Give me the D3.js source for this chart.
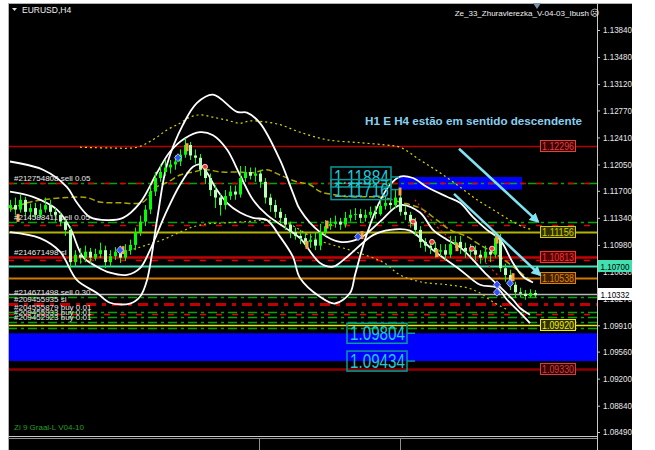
<!DOCTYPE html>
<html><head><meta charset="utf-8">
<script src="https://cdn.jsdelivr.net/npm/d3@7"></script>
<style>body{margin:0;background:#fff}svg{display:block}text{font-family:"Liberation Sans",Arial,sans-serif}</style>
</head><body><svg id="c" width="655" height="450"></svg>
<script>
// ---------- DATA ----------
const symbolTitle = "EURUSD,H4";
const expertTitle = "Ze_33_Zhuravlerezka_V-04-03_Ibush";
const commentText = "H1 E H4 estão em sentido descendente";
const footerText = "Zi 9 Graal-L V04-10";
const priceTicks = [1.13840,1.13480,1.13120,1.12770,1.12410,1.12050,1.11700,1.11340,1.10980,1.10630,1.10270,1.09910,1.09560,1.09200,1.08840,1.08490];
const firstOpen = 1.1147;
const candleClose = [
1.1151,1.1145,1.1158,1.1142,1.1147,1.1138,1.1145,1.1151,1.1142,1.1138,
1.1129,1.1118,1.1075,1.1085,1.1081,1.1089,1.1081,1.1086,1.1091,1.1075,
1.1083,1.1089,1.1081,1.1091,1.1098,1.1115,1.1129,1.1145,1.1169,1.1187,
1.1195,1.1201,1.1205,1.1209,1.1218,1.1231,1.1217,1.1214,1.1198,1.1187,
1.1171,1.1161,1.1151,1.1163,1.1169,1.1165,1.1187,1.1195,1.1190,1.1193,
1.1182,1.1161,1.1151,1.1142,1.1134,1.1125,1.1115,1.1110,1.1107,1.1102,
1.1105,1.1097,1.1115,1.1123,1.1126,1.1129,1.1125,1.1134,1.1138,1.1139,
1.1134,1.1138,1.1142,1.1139,1.1150,1.1154,1.1151,1.1161,1.1142,1.1138,
1.1129,1.1118,1.1102,1.1097,1.1094,1.1089,1.1091,1.1085,1.1099,1.1102,
1.1094,1.1089,1.1091,1.1085,1.1081,1.1089,1.1085,1.1107,1.1067,1.1058,
1.1045,1.1035,1.1033,1.1030,1.1034,1.1031];
const candleHigh = [
1.1158,1.1161,1.1165,1.1162,1.1153,1.1154,1.1153,1.1161,1.1158,1.1147,
1.1142,1.1134,1.1123,1.1091,1.1094,1.1097,1.1094,1.1093,1.1101,1.1097,
1.1091,1.1095,1.1097,1.1099,1.1105,1.1121,1.1137,1.1151,1.1177,1.1195,
1.1205,1.1211,1.1211,1.1217,1.1225,1.1240,1.1235,1.1225,1.1219,1.1203,
1.1193,1.1177,1.1166,1.1171,1.1177,1.1177,1.1203,1.1203,1.1201,1.1201,
1.1198,1.1187,1.1166,1.1158,1.1147,1.1139,1.1129,1.1121,1.1118,1.1114,
1.1113,1.1115,1.1126,1.1131,1.1134,1.1137,1.1134,1.1142,1.1145,1.1147,
1.1146,1.1145,1.1149,1.1150,1.1158,1.1162,1.1161,1.1171,1.1166,1.1150,
1.1142,1.1134,1.1123,1.1107,1.1105,1.1102,1.1099,1.1099,1.1110,1.1110,
1.1110,1.1101,1.1099,1.1097,1.1091,1.1097,1.1094,1.1115,1.1113,1.1073,
1.1065,1.1049,1.1041,1.1038,1.1039,1.1038];
const candleLow = [
1.1142,1.1138,1.1141,1.1137,1.1131,1.1133,1.1134,1.1141,1.1137,1.1129,
1.1123,1.1110,1.1067,1.1069,1.1073,1.1075,1.1073,1.1077,1.1081,1.1067,
1.1069,1.1078,1.1074,1.1077,1.1085,1.1091,1.1110,1.1123,1.1139,1.1163,
1.1182,1.1190,1.1193,1.1198,1.1203,1.1214,1.1211,1.1206,1.1190,1.1179,
1.1163,1.1147,1.1137,1.1145,1.1158,1.1158,1.1161,1.1182,1.1185,1.1182,
1.1174,1.1153,1.1142,1.1134,1.1126,1.1118,1.1107,1.1105,1.1099,1.1095,
1.1094,1.1091,1.1091,1.1110,1.1118,1.1121,1.1118,1.1121,1.1129,1.1131,
1.1127,1.1129,1.1134,1.1133,1.1137,1.1145,1.1145,1.1147,1.1137,1.1131,
1.1121,1.1110,1.1094,1.1089,1.1086,1.1081,1.1083,1.1078,1.1081,1.1094,
1.1086,1.1081,1.1083,1.1078,1.1073,1.1075,1.1075,1.1081,1.1062,1.1049,
1.1038,1.1028,1.1028,1.1025,1.1028,1.1028];
// white channel curves: [bar index, price]
const whiteCurveX = [[0,1.1115],[6,1.1107],[10,1.1089],[13.4,1.1051],[17.4,1.1034],[20,1.1021],[24,1.1020],[26,1.1029],[27.4,1.1051],[29.4,1.1131],[31.4,1.1205],[34.6,1.1258],[37.4,1.1287],[40.6,1.1298],[45.4,1.1275],[47.4,1.1274],[50,1.1260],[54,1.1211],[56.6,1.1167],[58,1.1145],[62,1.1115],[66,1.1102],[70,1.1107],[74,1.1129],[78,1.1151],[82,1.1141],[84.6,1.1118],[87.4,1.1105],[90,1.1095],[92.6,1.1078],[95.4,1.1058],[98,1.1042],[100.6,1.1025],[102,1.1014],[104,1.1005]];
const whiteCurveY = [[0,1.1209],[6.6,1.1198],[11.4,1.1175],[13.4,1.1154],[16,1.1135],[19.4,1.1131],[22.6,1.1134],[26,1.1154],[29.4,1.1194],[32,1.1222],[35,1.1240],[38,1.1248],[40.6,1.1244],[43.4,1.1225],[46,1.1191],[48.6,1.1158],[51.4,1.1138],[55,1.1121],[58,1.1107],[62,1.1074],[64.6,1.1069],[67.4,1.1082],[72.6,1.1111],[76,1.1118],[80,1.1117],[84.6,1.1091],[90,1.1065],[94,1.1045],[97.4,1.1041],[99.4,1.1025],[102,1.1008],[104,1.0994]];
const whiteCurveZ = [[0,1.1169],[4.6,1.1162],[9.4,1.1145],[12,1.1121],[14.6,1.1082],[17.4,1.1069],[20,1.1061],[23.4,1.1058],[26,1.1067],[28,1.1091],[31,1.1138],[34,1.1178],[36.6,1.1202],[38,1.1205],[39.4,1.1194],[41.4,1.1171],[43.4,1.1154],[46,1.1141],[48.6,1.1134],[51.4,1.1131],[54,1.1109],[56.6,1.1082],[58,1.1054],[62,1.1029],[65,1.1020],[68,1.1034],[69,1.1058],[71,1.1105],[73.6,1.1151],[76,1.1178],[78,1.1189],[80.6,1.1187],[83.4,1.1175],[87.4,1.1162],[90,1.1154],[92.6,1.1135],[95.4,1.1118],[98,1.1105],[100.6,1.1074],[102.6,1.1056],[104.6,1.1048]];
// yellow moving averages
const yellowUpper = [[14,1.1228],[20,1.1227],[25.4,1.1228],[28.6,1.1238],[31.4,1.1251],[34,1.1260],[36,1.1268],[38,1.1271],[40.6,1.1268],[43.4,1.1264],[46,1.1260],[48,1.1263],[50.6,1.1262],[54,1.1258],[58,1.1248],[63.4,1.1238],[70,1.1234],[75,1.1231],[78,1.1228],[82,1.1211],[86,1.1194],[90,1.1175],[93.4,1.1158],[96.6,1.1145],[100,1.1131],[102.6,1.1122],[104.6,1.1118]];
const yellowMiddle = [[0,1.1145],[3.4,1.1154],[6.6,1.1158],[11.4,1.1161],[15.4,1.1161],[18,1.1155],[22,1.1154],[26.6,1.1155],[29,1.1174],[31.4,1.1181],[34,1.1191],[36.6,1.1195],[39.4,1.1198],[42,1.1195],[46,1.1195],[48.6,1.1194],[51.4,1.1198],[54,1.1191],[57.4,1.1182],[60,1.1178],[62,1.1169],[64.6,1.1165],[68,1.1162],[71.4,1.1162],[74.6,1.1161],[78,1.1155],[82,1.1147],[85.4,1.1131],[88,1.1118],[91.4,1.1109],[94,1.1098],[98,1.1082],[101.4,1.1065],[104,1.1051]];
const yellowLower = [[14,1.1075],[20,1.1085],[24,1.1091],[27.4,1.1098],[30.6,1.1105],[34,1.1115],[36.6,1.1122],[39.4,1.1126],[42,1.1127],[47.4,1.1129],[51.4,1.1131],[55.4,1.1127],[61.4,1.1105],[68,1.1091],[74.6,1.1075],[78,1.1058],[82,1.1049],[87.4,1.1045],[91.4,1.1041],[94,1.1034],[96.6,1.1022],[99.4,1.1012]];
const redDotted = [[81,1.1158],[86,1.1118],[90,1.1098],[94,1.1081],[98,1.1054]];
// signal marks [bar index, price]
const orangeMarks = [[1.6,1.1134],[22.6,1.1091],[35.4,1.1228],[59.4,1.1098],[63.4,1.1125],[70.4,1.1111],[78,1.1169],[85.4,1.1087],[89.4,1.1095],[97.4,1.1105],[100.6,1.1055]];
const redMarks = [[39,1.1202],[80.6,1.1129],[84.4,1.1102],[92.4,1.1093],[96.4,1.1093]];
const blueMarks = [[22,1.1091],[33.6,1.1214],[69.6,1.1109],[97.4,1.1045],[97.4,1.1035],[100,1.1047]];
// levels
const tagLevels = [1.12296,1.11156,1.10813,1.10538,1.09920,1.09330];
const greenDashLevels = [1.1181,1.1129,1.1029,1.1009,1.1002,1.0996,1.0988];
const redDashLevels = [1.1181,1.1124,1.1078,1.1006];
const redThickDashLevels = [1.1020];
const askPrice = 1.10700, bidPrice = 1.10332;
const zoneTop = {from:77.8, to:102.4, hi:1.11884, lo:1.11716};
const zoneBottom = {hi:1.09804, lo:1.09434};
const orderLabels = ["#212754808 sell 0.05","#214588411 sell 0.05","#214671498 sl","#214671498 sell 0.30","#209455935 sl","#204555879 buy 0.01","#209455933 buy 0.01","#209452923 buy 0.01"];
const orderPrices = [1.1181,1.1129,1.10813,1.1029,1.1020,1.1009,1.1002,1.0996];
const arrowsData = [[89.8,1.1226,105.6,1.1129],[88.8,1.1166,106,1.1058]];

// ---------- DRAW ----------
const W=655,H=450, PL=8, PR=597, PT=3, PB=436, RX=632;
const svg=d3.select("#c");
svg.append("rect").attr("width",W).attr("height",H).attr("fill","#fff");
svg.append("rect").attr("x",PL).attr("y",PT).attr("width",RX-PL).attr("height",H-PT).attr("fill","#000");
const defs=svg.append("defs");
defs.append("clipPath").attr("id","clip").append("rect").attr("x",PL+1).attr("y",PT+1).attr("width",PR-PL-1).attr("height",PB-PT-1);
defs.append("marker").attr("id","ah").attr("viewBox","0 0 10 10").attr("refX",8).attr("refY",5)
  .attr("markerWidth",4).attr("markerHeight",4).attr("orient","auto")
  .append("path").attr("d","M0,0L10,5L0,10z").attr("fill","#7fe3f2");

const x=d3.scaleLinear().domain([0,105]).range([10,535]);
const y=d3.scaleLinear().domain([1.0849,1.1384]).range([432,30]);
const plot=svg.append("g").attr("clip-path","url(#clip)");

// zones
plot.append("rect").attr("x",PL).attr("width",PR-PL).attr("y",y(zoneBottom.hi)).attr("height",y(zoneBottom.lo)-y(zoneBottom.hi)).attr("fill","#0000ff");
plot.append("rect").attr("x",x(zoneTop.from)).attr("width",x(zoneTop.to)-x(zoneTop.from)).attr("y",y(zoneTop.hi)).attr("height",y(zoneTop.lo)-y(zoneTop.hi)).attr("fill","#0000ff");

function hline(p,color,w,dash){
  plot.append("line").attr("x1",PL).attr("x2",PR).attr("y1",Math.round(y(p))+0.5).attr("y2",Math.round(y(p))+0.5)
   .attr("stroke",color).attr("stroke-width",w).attr("stroke-dasharray",dash||null);
}
greenDashLevels.forEach(p=>hline(p,"#00a800",1.5,"9,4,3,4"));
redDashLevels.forEach(p=>hline(p,"#e00000",1.5,"6,10"));
redThickDashLevels.forEach(p=>hline(p,"#c00000",3,"10,6,4,6"));
const tagColors=["#b00000","#b4b400","#c80000","#d07800","#e8e800","#900000"];
const tagWidths=[1.5,2,2.5,2,1.5,2.5];
tagLevels.forEach((p,i)=>hline(p,tagColors[i],tagWidths[i]));
hline(askPrice,"#40e0b0",2);
hline(bidPrice,"#b8b8b8",1.5);

// curves
const line=d3.line().x(d=>x(d[0])).y(d=>y(d[1])).curve(d3.curveCatmullRom.alpha(0.5));
plot.append("path").attr("d",line(yellowMiddle)).attr("fill","none").attr("stroke","#a8a800").attr("stroke-width",1.5).attr("stroke-dasharray","6,3");
plot.append("path").attr("d",line(yellowUpper)).attr("fill","none").attr("stroke","#d8d800").attr("stroke-width",1.2).attr("stroke-dasharray","2,3");
plot.append("path").attr("d",line(yellowLower)).attr("fill","none").attr("stroke","#c8c800").attr("stroke-width",1.2).attr("stroke-dasharray","2,3");
plot.append("path").attr("d",line(redDotted)).attr("fill","none").attr("stroke","#ff2020").attr("stroke-width",1.2).attr("stroke-dasharray","2,3");
[whiteCurveX,whiteCurveY,whiteCurveZ].forEach(c=>{
  plot.append("path").attr("d",line(c)).attr("fill","none").attr("stroke","#fff").attr("stroke-width",1.8);
});

// candles
const candles=candleClose.map((c,i)=>({i,o:i?candleClose[i-1]:firstOpen,c,h:candleHigh[i],l:candleLow[i]}));
const cg=plot.append("g");
cg.selectAll("line").data(candles).join("line")
  .attr("x1",d=>Math.round(x(d.i))+0.5).attr("x2",d=>Math.round(x(d.i))+0.5)
  .attr("y1",d=>y(d.h)).attr("y2",d=>y(d.l)).attr("stroke","#00ff00").attr("stroke-width",1);
cg.selectAll("rect").data(candles).join("rect")
  .attr("x",d=>Math.round(x(d.i))-1).attr("width",3)
  .attr("y",d=>y(Math.max(d.o,d.c))).attr("height",d=>Math.max(1,Math.abs(y(d.o)-y(d.c))))
  .attr("fill",d=>d.c>=d.o?"#00ff00":"#b8ffb8");

// signal marks
plot.selectAll("rect.om").data(orangeMarks).join("rect").attr("class","om")
  .attr("x",d=>x(d[0])-1.5).attr("y",d=>y(d[1])-4).attr("width",3).attr("height",8).attr("fill","#ffa040");
plot.selectAll("circle.rm").data(redMarks).join("circle").attr("class","rm")
  .attr("cx",d=>x(d[0])).attr("cy",d=>y(d[1])).attr("r",2.5).attr("fill","#ff3030").attr("stroke","#ffffff").attr("stroke-width",0.8);
plot.selectAll("path.bm").data(blueMarks).join("path").attr("class","bm")
  .attr("d",d=>{const cx=x(d[0]),cy=y(d[1]);return `M${cx},${cy-4}L${cx+3.5},${cy}L${cx},${cy+4}L${cx-3.5},${cy}Z`;})
  .attr("fill","#3050ff").attr("stroke","#d0d8ff").attr("stroke-width",0.8);

// order labels
plot.selectAll("text.ord").data(orderLabels).join("text").attr("class","ord")
  .attr("x",14).attr("y",(d,i)=>y(orderPrices[i])-2).attr("fill","#e8e8e8").attr("font-size",8).text(d=>d);

// zone labels
function bigLabel(p,bx,conn){
  const yy=y(p);
  plot.append("rect").attr("x",bx).attr("y",yy-10).attr("width",60).attr("height",20).attr("fill","none").attr("stroke","#0a9a9a").attr("stroke-width",1.5);
  plot.append("line").attr("x1",bx+60).attr("x2",bx+60+conn).attr("y1",yy).attr("y2",yy).attr("stroke","#0a9a9a").attr("stroke-width",1.5);
  plot.append("text").attr("x",bx+3).attr("y",yy+7).attr("fill","#20c8d8").attr("font-size",20).attr("textLength",55).attr("lengthAdjust","spacingAndGlyphs").text(d3.format(".5f")(p));
}
bigLabel(zoneTop.hi,331,8); bigLabel(zoneTop.lo,331,8);
bigLabel(zoneBottom.hi,347,8); bigLabel(zoneBottom.lo,347,8);

// right tags
const tagFill=["#3a0000","#303000","#500000","#3a2000","#303000","#3a0000"];
const tagText=["#e04040","#d0d000","#ff3030","#e08000","#f0f000","#d04040"];
tagLevels.forEach((p,i)=>{
  const yy=Math.round(y(p));
  plot.append("rect").attr("x",540.5).attr("y",yy-5.5).attr("width",35).attr("height",11).attr("fill",tagFill[i]).attr("stroke",tagText[i]).attr("stroke-width",1);
  plot.append("text").attr("x",558).attr("y",yy+4).attr("text-anchor","middle").attr("fill",tagText[i]).attr("font-size",10).attr("textLength",32).attr("lengthAdjust","spacingAndGlyphs").text(d3.format(".5f")(p));
});

// arrows
arrowsData.forEach(a=>{
  plot.append("line").attr("x1",x(a[0])).attr("y1",y(a[1])).attr("x2",x(a[2])).attr("y2",y(a[3]))
   .attr("stroke","#7fe3f2").attr("stroke-width",2.5).attr("marker-end","url(#ah)");
});

// comment text
svg.append("text").attr("x",365).attr("y",125).attr("fill","#88d0f0").attr("font-weight","bold").attr("font-size",11)
  .attr("font-family","DejaVu Sans").attr("textLength",217).attr("lengthAdjust","spacingAndGlyphs").text(commentText);

// frame
svg.append("line").attr("x1",PL+0.5).attr("x2",PL+0.5).attr("y1",PT).attr("y2",H).attr("stroke","#b0b0b0");
svg.append("line").attr("x1",PL).attr("x2",RX).attr("y1",PT+0.5).attr("y2",PT+0.5).attr("stroke","#b0b0b0");
svg.append("line").attr("x1",PR+0.5).attr("x2",PR+0.5).attr("y1",PT).attr("y2",H).attr("stroke","#c8c8c8");
svg.append("line").attr("x1",PL).attr("x2",PR).attr("y1",PB+0.5).attr("y2",PB+0.5).attr("stroke","#c8c8c8");
svg.append("line").attr("x1",PL).attr("x2",PR).attr("y1",PB+2.5).attr("y2",PB+2.5).attr("stroke","#909090");
[259,400].forEach(v=>svg.append("line").attr("x1",v+0.5).attr("x2",v+0.5).attr("y1",PB+3).attr("y2",H).attr("stroke","#909090"));

// axis (labels hidden under the ask/bid boxes are skipped)
const ax=svg.append("g").attr("transform",`translate(${PR},0)`)
  .call(d3.axisRight(y).tickValues(priceTicks).tickFormat(d3.format(".5f")).tickSize(3).tickPadding(3));
ax.select(".domain").remove();
ax.selectAll(".tick line").attr("stroke","#c8c8c8");
ax.selectAll(".tick text").attr("fill","#e8e8e8").attr("font-size",9).attr("textLength",29).attr("lengthAdjust","spacingAndGlyphs").attr("font-family","Liberation Sans");

// price boxes on axis
function axisBox(p,fill,tc){
  const yy=Math.round(y(p));
  svg.append("rect").attr("x",598).attr("y",yy-6).attr("width",34).attr("height",12).attr("fill",fill);
  svg.append("text").attr("x",615).attr("y",yy+4).attr("text-anchor","middle").attr("fill",tc).attr("font-size",9).attr("textLength",29).attr("lengthAdjust","spacingAndGlyphs").text(d3.format(".5f")(p));
}
axisBox(askPrice,"#40e0b0","#000");
axisBox(bidPrice,"#ffffff","#000");

// titles
svg.append("path").attr("d","M12,8L17,8L14.5,11z").attr("fill","#e0e0e0");
svg.append("text").attr("x",22).attr("y",13).attr("fill","#f0f0f0").attr("font-size",8.5).text(symbolTitle);
svg.append("text").attr("x",589).attr("y",16).attr("text-anchor","end").attr("fill","#f0f0f0").attr("font-size",8).text(expertTitle);
svg.append("text").attr("x",590).attr("y",16).attr("fill","#f0f0f0").attr("font-size",9).attr("font-family","DejaVu Sans").text("\u2639");
svg.append("path").attr("d","M533,3L541,3L537,9z").attr("fill","#8090a8");
svg.append("text").attr("x",14).attr("y",430).attr("fill","#20a020").attr("font-size",8).text(footerText);
</script></body></html>
